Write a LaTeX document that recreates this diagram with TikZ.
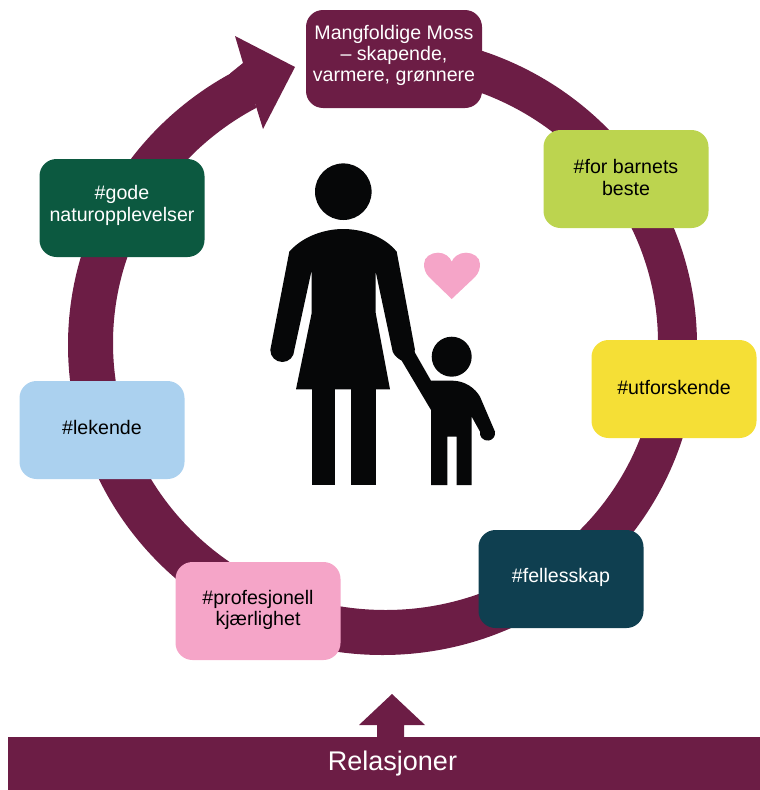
\documentclass[tikz,border=0pt]{standalone}
\usepackage{fontspec}
\setmainfont{Liberation Sans}
\definecolor{plum}{HTML}{6C1D45}
\definecolor{limeb}{HTML}{BCD44F}
\definecolor{yellowb}{HTML}{F5DF36}
\definecolor{tealb}{HTML}{0F3F50}
\definecolor{pinkb}{HTML}{F5A5C8}
\definecolor{blueb}{HTML}{ABD1EF}
\definecolor{greenb}{HTML}{0C5940}
\definecolor{inkb}{HTML}{060708}
\tikzset{
  tagbox/.style={rounded corners=17pt,minimum width=165pt,minimum height=98pt,inner sep=0pt},
  tagtext/.style={align=center,font=\fontsize{19.6}{21.2}\selectfont,inner sep=0pt},
  figure/.style={fill=inkb,draw=none}
}
\begin{document}
\begin{tikzpicture}[x=1pt,y=-1pt]
\useasboundingbox (0,0) rectangle (760,790);
% ring
\fill[plum,even odd rule] (382.5,345) ellipse[x radius=314.5,y radius=310] (385.5,343) ellipse[x radius=272.5,y radius=267];
% gap between arrow head and top box
\fill[white] (263,129) -- (235,36) -- (225,0) -- (320,0) -- (320,129) -- cycle;
% arrow head on the ring
\fill[plum] (230,73.5) -- (243,63) -- (235,36) -- (295,67) -- (263,129) -- (255,103) -- (240,112) -- cycle;
% woman
\fill[figure] (343.3,191.7) circle[radius=28.3];
\fill[figure] (289.3,251.7) .. controls (303,236) and (325,229) .. (343,229) .. controls (362,229) and (384,236) .. (396.7,251.7) -- (415,350) -- (401.7,360.7) .. controls (397,358) and (394,355) .. (392.7,351.7) -- (375.7,271.7) -- (375.7,313) -- (390,389.3) -- (296,389.3) -- (311.7,313) -- (311.7,270) -- (294.3,350) arc[start angle=0,end angle=180,radius=12] -- cycle;
\fill[figure] (311.7,389) rectangle (335,485);
\fill[figure] (351,389) rectangle (375.7,485);
% child
\fill[figure] (451.7,356.7) circle[radius=20];
\fill[figure] (401.7,360.7) -- (406,350) -- (414,348) -- (415,352.7) -- (431,380.7) -- (453,380.7) .. controls (465,381) and (475,388) .. (480,396.7) -- (495,431.7) arc[start angle=-10,end angle=190,radius=7.6] -- (471.7,416.7) -- (471.7,485) -- (456.7,485) -- (456.7,436.7) -- (447.3,436.7) -- (447.3,485) -- (431,485) -- (431,410) -- cycle;
% heart
\fill[pinkb] (451.7,299) -- (429,277) .. controls (425,273) and (424,268) .. (424,264) .. controls (424,257) and (431,252.7) .. (438,252.7) .. controls (445,252.7) and (450,257) .. (451.7,261.7) .. controls (453.4,257) and (459,252.7) .. (466,252.7) .. controls (473,252.7) and (480,257) .. (480,264) .. controls (480,268) and (479,273) .. (475,277) -- cycle;
% boxes
\node[tagbox,fill=plum,minimum width=176pt] (top) at (394,59) {};
\node[tagbox,fill=limeb] (barn) at (626,179) {};
\node[tagbox,fill=yellowb] (utf) at (674,389) {};
\node[tagbox,fill=tealb] (fell) at (561,579) {};
\node[tagbox,fill=pinkb] (prof) at (258,611) {};
\node[tagbox,fill=blueb] (lek) at (102,430) {};
\node[tagbox,fill=greenb] (gode) at (122,208) {};
\node[tagtext,text=white] (toptxt) at ([yshift=3.5pt]top.center) {Mangfoldige Moss\\– skapende,\\varmere, grønnere};
\node[tagtext] (barntxt) at ([yshift=1.5pt]barn.center) {\#for barnets\\beste};
\node[tagtext] (utftxt) at ([yshift=2pt]utf.center) {\#utforskende};
\node[tagtext,text=white] (felltxt) at ([yshift=2pt]fell.center) {\#fellesskap};
\node[tagtext] (proftxt) at ([yshift=1pt]prof.center) {\#profesjonell\\kjærlighet};
\node[tagtext] (lektxt) at ([yshift=3pt]lek.center) {\#lekende};
\node[tagtext,text=white] (godetxt) at ([yshift=2.5pt]gode.center) {\#gode\\naturopplevelser};
% bottom bar
\node[fill=plum,minimum width=752pt,minimum height=53.5pt,inner sep=0pt] (rel) at (384,763.5) {};
\node[text=white,inner sep=0pt,font=\fontsize{27}{30}\selectfont] (reltxt) at ([xshift=8.5pt]rel.center) {Relasjoner};
\fill[plum] (377,738) -- (377,725) -- (359,725) -- (392,694) -- (425,725) -- (404,725) -- (404,738) -- cycle;
\end{tikzpicture}
\end{document}
